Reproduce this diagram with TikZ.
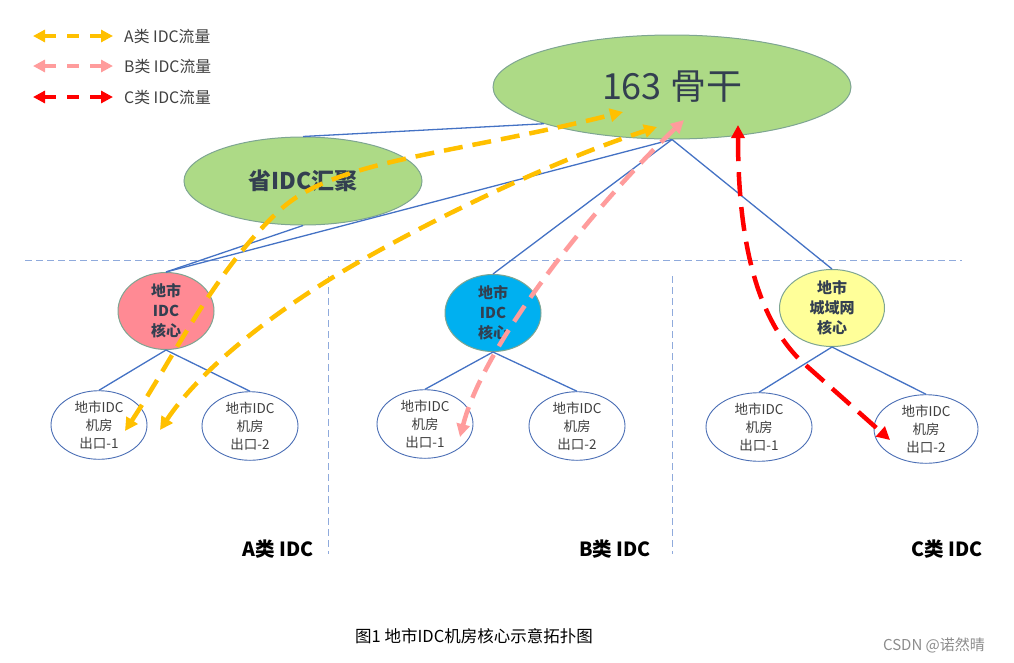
\documentclass[tikz,border=0pt]{standalone}
\usepackage{fontspec}
\setmainfont{Noto Sans CJK SC}
\usetikzlibrary{arrows.meta,shapes.geometric}
\definecolor{bbfill}{HTML}{ADDA86}
\definecolor{edgec}{HTML}{7EA592}
\definecolor{pinkc}{HTML}{FF8A94}
\definecolor{bluec}{HTML}{00B0F0}
\definecolor{yellc}{HTML}{FFFF99}
\definecolor{treec}{HTML}{4472C4}
\definecolor{exitc}{HTML}{4A6EB5}
\definecolor{sepc}{HTML}{8FAADC}
\definecolor{flowa}{HTML}{FFC000}
\definecolor{flowb}{HTML}{FF9C9C}
\definecolor{flowc}{HTML}{FF0000}
\definecolor{dtxt}{HTML}{333F50}
\definecolor{txt}{HTML}{404040}
\begin{document}
\begin{tikzpicture}[x=1pt,y=-1pt,
  ell/.style={ellipse, inner sep=0pt, draw=edgec, line width=1pt},
  core/.style={ell, minimum width=96pt, minimum height=66pt, text=dtxt,
    font=\fontsize{15}{20}\selectfont\bfseries, align=center},
  exitbox/.style={ellipse, inner sep=0pt, draw=exitc, line width=0.9pt, fill=white,
    minimum width=96pt, minimum height=62pt, text=txt,
    font=\fontsize{13.5}{18}\selectfont, align=center},
  tree/.style={draw=treec, line width=1.3pt},
  sepline/.style={draw=sepc, line width=0.9pt, dash pattern=on 7pt off 4pt},
  flow/.style={line width=4.5pt, dash pattern=on 19pt off 10pt,
    {Triangle[length=13pt,width=13pt]}-{Triangle[length=13pt,width=13pt]}},
  legflow/.style={line width=4.2pt, dash pattern=on 12pt off 11pt,
    {Triangle[length=12pt,width=12pt]}-{Triangle[length=12pt,width=12pt]}},
  legtext/.style={anchor=west, text=txt, font=\fontsize{15.8}{18}\selectfont, inner sep=0pt},
  idclabel/.style={text=black, font=\fontsize{19.5}{22}\selectfont\bfseries, inner sep=0pt}
]
\useasboundingbox (0,0) rectangle (1014,662);

% separators
\coordinate (hs1) at (25,260);
\coordinate (hs2) at (962,260);
\draw[sepline] (hs1) -- (hs2);
\coordinate (vs1a) at (328,276);
\coordinate (vs1b) at (328,554);
\coordinate (vs2a) at (672,276);
\coordinate (vs2b) at (672,554);
\draw[sepline] (vs1a) -- (vs1b);
\draw[sepline] (vs2a) -- (vs2b);

% main nodes
\node[ell, fill=bbfill, minimum width=358pt, minimum height=104pt, text=dtxt,
  font=\fontsize{36}{40}\selectfont] (bb) at (672,87) {163 骨干};
\node[ell, fill=bbfill, minimum width=238pt, minimum height=88pt, text=dtxt,
  font=\fontsize{23}{26}\selectfont\bfseries] (prov) at (303,181) {省IDC汇聚};

\node[core, fill=pinkc] (acore) at (166,311) {地市\\IDC\\核心};
\node[core, fill=bluec, minimum height=64pt] (bcore) at (493,313) {地市\\IDC\\核心};
\node[core, fill=yellc, minimum width=105pt] (ccore) at (832,308) {地市\\城域网\\核心};

\node[exitbox] (a1) at (99,425) {地市IDC\\机房\\出口-1};
\node[exitbox] (a2) at (250,426) {地市IDC\\机房\\出口-2};
\node[exitbox] (b1) at (425,424) {地市IDC\\机房\\出口-1};
\node[exitbox] (b2) at (577,426) {地市IDC\\机房\\出口-2};
\node[exitbox, minimum width=106pt, minimum height=66pt] (c1) at (759,427) {地市IDC\\机房\\出口-1};
\node[exitbox, minimum width=104pt, minimum height=66pt] (c2) at (926,429) {地市IDC\\机房\\出口-2};

% tree lines
\draw[tree] (prov.north) -- (bb.196.6);
\draw[tree] (prov.south) -- (acore.north);
\draw[tree] (acore.north) -- (bb.south);
\draw[tree] (bb.south) -- (bcore.north);
\draw[tree] (bb.south) -- (ccore.north);
\draw[tree] (acore.south) -- (a1.north);
\draw[tree] (acore.south) -- (a2.north);
\draw[tree] (bcore.south) -- (b1.north);
\draw[tree] (bcore.south) -- (b2.north);
\draw[tree] (ccore.south) -- (c1.north);
\draw[tree] (ccore.south) -- (c2.north);

% flows
\coordinate (fa1s) at (125,431);
\coordinate (fa1m) at (280,210);
\coordinate (fa1e) at (623,112);
\draw[flow, draw=flowa] (fa1s) .. controls (175,355) and (215,270) .. (fa1m)
  .. controls (334,160) and (450,155) .. (fa1e);
\coordinate (fa2s) at (160,430);
\coordinate (fa2m) at (340,273);
\coordinate (fa2e) at (657,127);
\draw[flow, draw=flowa] (fa2s) .. controls (200,370) and (270,315) .. (fa2m)
  .. controls (410,231) and (540,165) .. (fa2e);
\coordinate (fbs) at (460,437);
\coordinate (fbe) at (684,120);
\draw[flow, draw=flowb] (fbs) .. controls (485,340) and (600,200) .. (fbe);
\coordinate (fcs) at (738,125);
\coordinate (fcm) at (800,360);
\coordinate (fce) at (890,440);
\draw[flow, draw=flowc, dash pattern=on 24pt off 11pt] (fcs) .. controls (738,250) and (760,320) .. (fcm) -- (fce);

% legend
\coordinate (lga1) at (33,36);  \coordinate (lga2) at (113,36);
\coordinate (lgb1) at (33,66);  \coordinate (lgb2) at (113,66);
\coordinate (lgc1) at (33,97);  \coordinate (lgc2) at (113,97);
\draw[legflow, draw=flowa] (lga1) -- (lga2);
\draw[legflow, draw=flowb] (lgb1) -- (lgb2);
\draw[legflow, draw=flowc] (lgc1) -- (lgc2);
\node[legtext] (lta) at (124,36) {A类 IDC流量};
\node[legtext] (ltb) at (124,66) {B类 IDC流量};
\node[legtext] (ltc) at (124,97) {C类 IDC流量};

% class labels
\node[idclabel] (la) at (278,549) {A类 IDC};
\node[idclabel] (lb) at (615,549) {B类 IDC};
\node[idclabel] (lc) at (947,549) {C类 IDC};

% caption
\node[text=black, font=\fontsize{16.5}{20}\selectfont, inner sep=0pt] (cap) at (474,636) {图1 地市IDC机房核心示意拓扑图};
\node[text=black!45, font=\fontsize{15}{18}\selectfont, inner sep=0pt] (wm) at (934,645) {CSDN @诺然晴};
\end{tikzpicture}
\end{document}
